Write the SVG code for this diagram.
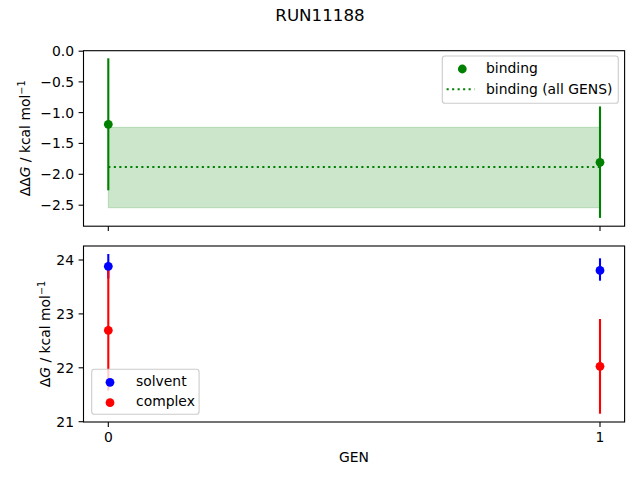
<svg xmlns="http://www.w3.org/2000/svg" width="640" height="480" viewBox="0 0 640 480">
<style>
text{font-family:"DejaVu Sans","Liberation Sans",sans-serif;font-size:13.9px;fill:#000}
.spine{fill:none;stroke:#000;stroke-width:1.1}
.tick{stroke:#000;stroke-width:1.1}
.yt{text-anchor:end}
.xt{text-anchor:middle}
.eg{stroke:#008000;stroke-width:2.1}
.eb{stroke:#0000ff;stroke-width:2.1}
.er{stroke:#ff0000;stroke-width:2.1}
.leg{fill:#fff;fill-opacity:0.8;stroke:#cccccc;stroke-width:1.1}
</style>
<rect width="640" height="480" fill="#fff"/>
<text x="320" y="20.7" text-anchor="middle" style="font-size:16.7px">RUN11188</text>

<g id="top-axes">
  <rect x="108.3" y="127.3" width="491.7" height="80.4" fill="#008000" fill-opacity="0.2" stroke="#008000" stroke-opacity="0.2" stroke-width="1.1"/>
  <line x1="108.3" y1="167" x2="600" y2="167" stroke="#008000" stroke-width="2.1" stroke-dasharray="2.1,3.4"/>
  <g id="binding-points">
    <line class="eg" x1="108.3" y1="58.3" x2="108.3" y2="190.3"/>
    <line class="eg" x1="600" y1="106.4" x2="600" y2="217.9"/>
    <circle cx="108.3" cy="124.3" r="4.4" fill="#008000"/>
    <circle cx="600" cy="162.3" r="4.4" fill="#008000"/>
  </g>
  <rect class="spine" x="83.5" y="50.7" width="541.1" height="175.5"/>
  <g id="top-yticks">
    <line class="tick" x1="78.6" y1="51.2" x2="83.5" y2="51.2"/>
    <line class="tick" x1="78.6" y1="81.9" x2="83.5" y2="81.9"/>
    <line class="tick" x1="78.6" y1="112.6" x2="83.5" y2="112.6"/>
    <line class="tick" x1="78.6" y1="143.4" x2="83.5" y2="143.4"/>
    <line class="tick" x1="78.6" y1="174.3" x2="83.5" y2="174.3"/>
    <line class="tick" x1="78.6" y1="205.2" x2="83.5" y2="205.2"/>
    <text class="yt" x="74" y="56.2">0.0</text>
    <text class="yt" x="74" y="86.9">−0.5</text>
    <text class="yt" x="74" y="117.6">−1.0</text>
    <text class="yt" x="74" y="148.4">−1.5</text>
    <text class="yt" x="74" y="179.3">−2.0</text>
    <text class="yt" x="74" y="210.2">−2.5</text>
  </g>
  <line class="tick" x1="108.3" y1="226.2" x2="108.3" y2="231.1"/>
  <line class="tick" x1="600" y1="226.2" x2="600" y2="231.1"/>
  <text transform="translate(30,138.4) rotate(-90)" text-anchor="middle">ΔΔ<tspan font-style="italic">G</tspan> / kcal mol<tspan style="font-size:9.7px" dy="-5.5">−1</tspan></text>
  <g id="top-legend">
    <rect class="leg" x="442.3" y="56" width="176" height="47.3" rx="2.8"/>
    <circle cx="462.3" cy="69" r="4.4" fill="#008000"/>
    <text x="486" y="73.4">binding</text>
    <line x1="446.6" y1="89.3" x2="474.4" y2="89.3" stroke="#008000" stroke-width="2.1" stroke-dasharray="2.1,3.4"/>
    <text x="486" y="93.8">binding (all GENS)</text>
  </g>
</g>

<g id="bottom-axes">
  <g id="errorbars">
    <line class="eb" x1="108.3" y1="254" x2="108.3" y2="278.5"/>
    <line class="eb" x1="600" y1="258.3" x2="600" y2="280.7"/>
    <line class="er" x1="108.3" y1="270" x2="108.3" y2="390.6"/>
    <line class="er" x1="600" y1="319" x2="600" y2="413.7"/>
  </g>
  <g id="solvent-points">
    <circle cx="108.3" cy="266.3" r="4.4" fill="#0000ff"/>
    <circle cx="600" cy="270.4" r="4.4" fill="#0000ff"/>
  </g>
  <g id="complex-points">
    <circle cx="108.3" cy="330.3" r="4.4" fill="#ff0000"/>
    <circle cx="600" cy="366.3" r="4.4" fill="#ff0000"/>
  </g>
  <rect class="spine" x="83.5" y="246" width="541.1" height="176"/>
  <g id="bottom-yticks">
    <line class="tick" x1="78.6" y1="260" x2="83.5" y2="260"/>
    <line class="tick" x1="78.6" y1="313.9" x2="83.5" y2="313.9"/>
    <line class="tick" x1="78.6" y1="367.8" x2="83.5" y2="367.8"/>
    <line class="tick" x1="78.6" y1="421.7" x2="83.5" y2="421.7"/>
    <text class="yt" x="74" y="265">24</text>
    <text class="yt" x="74" y="318.9">23</text>
    <text class="yt" x="74" y="372.8">22</text>
    <text class="yt" x="74" y="426.7">21</text>
  </g>
  <g id="bottom-xticks">
    <line class="tick" x1="108.3" y1="422" x2="108.3" y2="426.9"/>
    <line class="tick" x1="600" y1="422" x2="600" y2="426.9"/>
    <text class="xt" x="108.3" y="442">0</text>
    <text class="xt" x="600" y="442">1</text>
  </g>
  <text x="354" y="462" text-anchor="middle">GEN</text>
  <text transform="translate(50,334) rotate(-90)" text-anchor="middle">Δ<tspan font-style="italic">G</tspan> / kcal mol<tspan style="font-size:9.7px" dy="-5.5">−1</tspan></text>
  <g id="bottom-legend">
    <rect class="leg" x="91.7" y="369.3" width="107.4" height="45" rx="2.8"/>
    <circle cx="110" cy="382.3" r="4.4" fill="#0000ff"/>
    <text x="136" y="385.7">solvent</text>
    <circle cx="110" cy="402.7" r="4.4" fill="#ff0000"/>
    <text x="136" y="406.2">complex</text>
  </g>
</g>
</svg>
